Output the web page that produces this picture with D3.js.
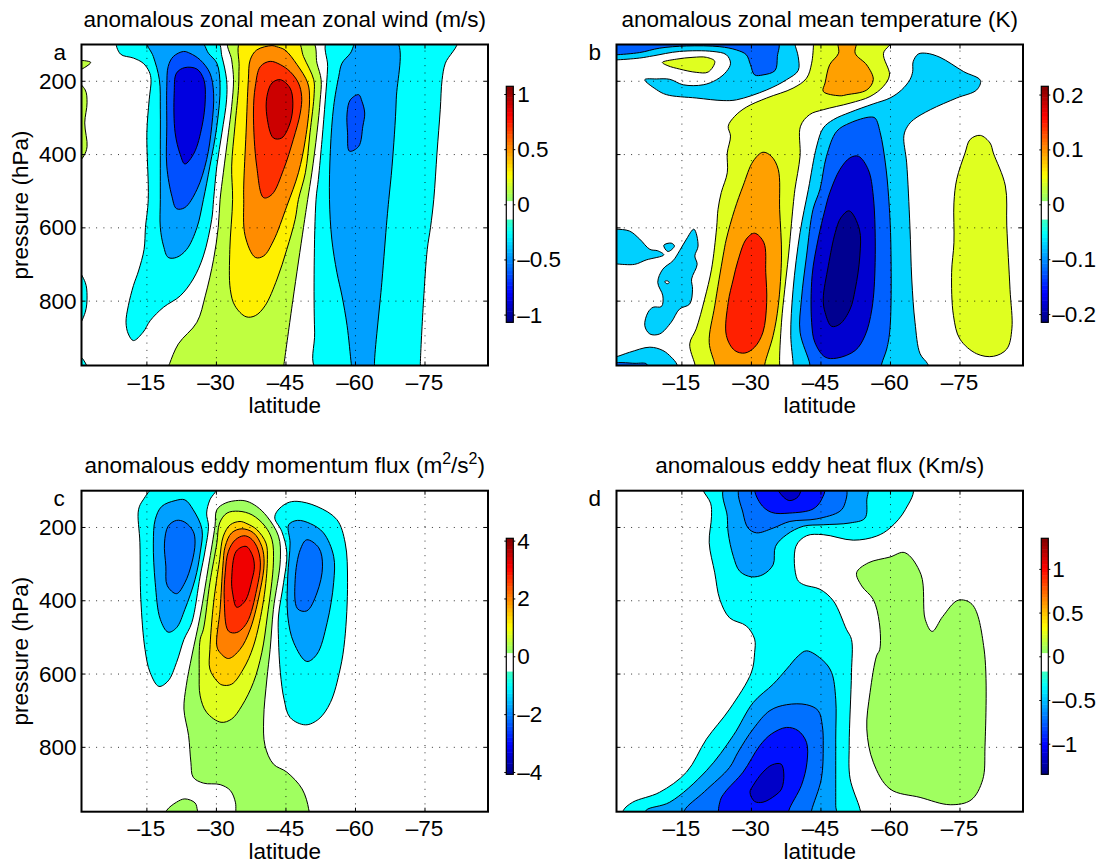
<!DOCTYPE html>
<html>
<head>
    <title>Anomalous zonal mean fields</title>
    <script src="https://d3js.org/d3.v7.min.js"></script>
    <style>
        body { margin: 0; background: #fff; }
        text { font-family: "Liberation Sans", Arial, sans-serif; fill: #000; font-size: 22.5px; }
    </style>
</head>
<body>
    <svg width="1107" height="867"></svg>
    <script>
        // axis values
        var latTicks = [-15, -30, -45, -60, -75];
        var pressureTicks = [200, 400, 600, 800];
        var latDomain = [-1, -88.7];
        var pressureDomain = [101, 977];

        // colorbar ticks and limits
        var windBarTicks = [1, 0.5, 0, -0.5, -1];
        var tempBarTicks = [0.2, 0.1, 0, -0.1, -0.2];
        var momBarTicks = [4, 2, 0, -2, -4];
        var heatBarTicks = [1, 0.5, 0, -0.5, -1];
        var windLimit = 1.07, tempLimit = 0.215, momLimit = 4.08, heatLimit = 1.35;

        // filled contour levels and their colors
        var windLevels = [-0.2, -0.4, -0.6, -0.8, 0.1, 0.3, 0.5, 0.7, 0.9];
        var windColors = ["#00ffff", "#00a0ff", "#0050ff", "#0000e0", "#bfff40", "#fff000", "#ff8c00", "#ff3000", "#cc0000"];
        var tempLevels = [-0.03, -0.07, -0.11, -0.15, -0.19, 0.02, 0.1, 0.15];
        var tempColors = ["#00d0ff", "#0060ff", "#0000d0", "#000090", "#ffffff", "#dfff20", "#ffa000", "#ff2000"];
        var momLevels = [-0.8, -1.6, -2.4, 0.4, 1.0, 1.6, 2.2, 2.8, 3.4];
        var momColors = ["#00ffff", "#00a0ff", "#0070ff", "#a0ff60", "#e0ff20", "#ffd000", "#ff8000", "#ff3000", "#f00000"];
        var heatLevels = [-0.2, -0.4, -0.6, -0.8, -1.0, 0.1];
        var heatColors = ["#00ffff", "#00a0ff", "#0070ff", "#0010ff", "#0000c8", "#a0ff60"];

        // contours: [level, [[lat, pressure], ...]], outer ones first
        var windContours = [
            [-0.2, [[-8.7,90],[-9.4,127],[-12.2,138],[-14.3,152],[-15.6,175],[-16,197],[-15.6,252],[-15.1,342],[-15.4,524],[-14.8,600],[-14.5,660],[-13.3,719],[-12.2,759],[-11.1,814],[-10.6,859],[-11.1,891],[-12.2,909],[-14.3,886],[-15.8,855],[-18.7,818],[-22.3,787],[-25.1,741],[-27.3,678],[-29.1,578],[-29.5,524],[-30.2,433],[-31.3,342],[-32.3,252],[-32.3,197],[-31.3,134],[-30.2,90]]],
            [-0.4, [[-15.1,90],[-16.5,134],[-17.8,197],[-18,279],[-18,388],[-18,524],[-18,600],[-18.7,651],[-19.7,682],[-21.5,682],[-23.7,660],[-25.9,601],[-27.3,524],[-28.7,433],[-30.2,324],[-30.9,215],[-30.2,152],[-28.4,125],[-26.6,90]]],
            [-0.6, [[-23,120],[-20.8,134],[-19.7,161],[-19.4,215],[-19.4,324],[-19.4,433],[-20.5,515],[-21.5,549],[-23.3,546],[-25.9,497],[-28,415],[-29.1,324],[-29.5,234],[-28.7,179],[-26.6,143],[-24.4,125]]],
            [-0.8, [[-23.3,164],[-21.5,179],[-21,234],[-21.2,342],[-22.3,401],[-23.3,427],[-25.3,397],[-27,324],[-27.7,252],[-27.4,197],[-25.9,168]]],
            [0.1, [[-32.7,90],[-33.4,143],[-33.8,197],[-33.4,270],[-32.7,342],[-31.6,451],[-30.9,524],[-30.5,600],[-29.5,687],[-27.7,787],[-25.9,859],[-21.9,918],[-20,972],[-19.5,990],[-44.5,990],[-44.7,972],[-46.6,799],[-48.9,600],[-49.8,524],[-50.7,451],[-51.8,342],[-52.5,252],[-52.7,197],[-51.8,152],[-50.7,90]]],
            [0.3, [[-35.4,90],[-35,161],[-34.9,215],[-34.1,324],[-33.4,433],[-33.6,524],[-33,660],[-33.1,769],[-34.1,814],[-36.5,844],[-38.5,841],[-40.6,814],[-43.2,741],[-45.3,660],[-47.1,578],[-47.8,524],[-49.3,451],[-50.3,342],[-51.2,234],[-51.1,197],[-48.9,134],[-47.5,90]]],
            [0.5, [[-42.1,104],[-38.8,116],[-37.4,143],[-37,197],[-36.5,342],[-36,487],[-36,524],[-36.3,623],[-38.5,682],[-40.3,678],[-42.4,637],[-45.3,542],[-47.8,451],[-49.3,360],[-50.2,252],[-49.8,206],[-47.5,156],[-44.9,116],[-43.1,107]]],
            [0.7, [[-39.6,161],[-38.5,215],[-38.1,288],[-38.8,433],[-40.3,519],[-42.1,510],[-44.6,442],[-46.7,360],[-48.2,288],[-48.5,243],[-47.8,206],[-46,175],[-43.9,156],[-41.7,147]]],
            [0.9, [[-43.9,197],[-42.1,206],[-41,243],[-41,297],[-42.4,356],[-44.2,356],[-46,315],[-46.6,261],[-46,220]]],
            [0.1, [[0,147],[-3,150],[0,172]]],
            [0.1, [[0,205],[-1.8,225],[-2.2,260],[-1.7,315],[-2.2,380],[-1.5,405],[0,425]]],
            [-0.2, [[0,715],[-1.8,750],[-2.2,787],[-1.8,832],[0,875]]],
            [-0.2, [[0,950],[-1,955],[-2.3,990],[0,990]]],
            [-0.2, [[-54.1,90],[-54.1,161],[-53.6,252],[-52.9,360],[-52.1,469],[-51.6,524],[-51.2,705],[-51.3,886],[-51.8,990],[-74.1,990],[-74.1,972],[-74.8,799],[-75.6,660],[-76.3,600],[-77,524],[-77.7,397],[-78.4,279],[-78.8,197],[-79.5,152],[-82,90]]],
            [-0.4, [[-60.6,90],[-59,125],[-57.2,152],[-56.5,188],[-55.4,270],[-54.7,388],[-54.5,524],[-55,632],[-56.1,723],[-57.2,787],[-58.3,868],[-59.2,972],[-59.4,990],[-64.3,990],[-64.2,972],[-65.8,750],[-66.9,578],[-67.3,524],[-68,433],[-68.9,252],[-68.9,90]]],
            [-0.6, [[-60.8,238],[-59,252],[-58.3,288],[-58.4,342],[-58.8,392],[-60.8,379],[-61.7,324],[-62.1,288],[-61.5,256]]]
        ];

        var tempContours = [
            [-0.03, [[-39.5,90],[-39.5,100],[-40.2,134],[-40.2,172],[-37.7,197],[-33.4,225],[-26.9,252],[-24,254],[-18.2,247],[-11.8,238],[-9.6,224],[-7.1,197],[-9.6,195],[-12.5,196],[-15.4,211],[-19.7,211],[-22.6,197],[-24.7,175],[-25.6,152],[-24.7,129],[-21.8,120],[-14.6,120],[-8.9,132],[-6,138],[-0.9,143],[0,143],[0,90]]],
            [-0.07, [[0,90],[0,129],[-0.9,129],[-6,123],[-10.3,111],[-16.1,105],[-23.3,107],[-26.9,116],[-29,129],[-29.9,156],[-30.8,184],[-32.6,184],[-35.2,172],[-35.7,134],[-35.7,90]]],
            [0.02, [[-10.9,150],[-13.9,141],[-17.5,136],[-20.4,136],[-22.2,147],[-20.8,176],[-18.2,177],[-14.6,168],[-12.1,159]]],
            [0.02, [[-43.5,90],[-43.5,100],[-43.1,152],[-42,193],[-39.1,220],[-33.4,247],[-29,272],[-26.5,297],[-25.1,324],[-25.6,351],[-24.9,397],[-24.9,451],[-23.6,505],[-22.9,551],[-22.6,601],[-21.5,714],[-20,796],[-18.2,877],[-16.8,918],[-17.9,973],[-18.2,990],[-36.4,990],[-36.2,973],[-36.6,859],[-37.3,769],[-38.1,678],[-39.1,542],[-39.5,496],[-40.6,406],[-40.7,324],[-42.7,292],[-45.6,279],[-51.4,261],[-55.7,243],[-58.6,215],[-59.9,184],[-58.6,125],[-60.5,90]]],
            [0.1, [[-48.9,90],[-48.9,125],[-47,156],[-46,206],[-45.6,229],[-49.2,241],[-50.7,238],[-55,225],[-56.4,197],[-55,157],[-52.5,125],[-52.7,90]]],
            [0.1, [[-32.6,395],[-30.5,419],[-28.3,487],[-26.5,551],[-24.7,632],[-24,678],[-22.2,814],[-21,914],[-22.2,973],[-22.4,990],[-32.9,990],[-33,973],[-34.8,895],[-35.9,814],[-36.6,678],[-36.2,551],[-35.9,442],[-34.4,406]]],
            [0.15, [[-30.8,616],[-29,632],[-27.2,691],[-26.2,741],[-25.1,805],[-24.7,895],[-26.5,936],[-28.7,943],[-30.8,927],[-32.6,886],[-33.4,805],[-33.2,723],[-32.8,642]]],
            [-0.03, [[-51.4,286],[-56.4,263],[-60,247],[-62.5,225],[-64.3,197],[-64.9,175],[-65,148],[-66.1,127],[-67.9,125],[-70.8,136],[-75.9,175],[-79.5,199],[-78.7,225],[-74.4,247],[-68.7,279],[-65.1,306],[-63.8,324],[-63,350],[-63.6,424],[-64.3,596],[-64.7,741],[-65.4,859],[-66.5,945],[-68.1,972],[-68.5,990],[-39.1,990],[-39.1,973],[-38.6,895],[-39.1,769],[-40.6,614],[-42.4,496],[-44.2,378],[-45.6,329],[-47.8,306]]],
            [-0.07, [[-55.7,299],[-56.8,302],[-57.9,342],[-59,424],[-59.7,515],[-60.2,651],[-60,877],[-59.3,932],[-58.2,973],[-58,990],[-42.7,990],[-42.7,973],[-40.6,886],[-40.9,796],[-42,678],[-43.4,551],[-44.9,496],[-46.3,406],[-48.5,338],[-51.4,315]]],
            [-0.11, [[-53.2,406],[-51.4,410],[-49.2,442],[-47,506],[-46,551],[-44.5,632],[-43.2,732],[-43.1,859],[-43.8,914],[-46,954],[-48.5,957],[-52.5,936],[-54.6,896],[-56.1,823],[-56.8,696],[-56.4,515],[-55.3,442]]],
            [-0.15, [[-51.2,555],[-49.4,574],[-48.2,614],[-46.7,705],[-45.6,796],[-46,832],[-47.4,870],[-49.2,864],[-51.4,823],[-52.5,769],[-53.5,678],[-53.4,605]]],
            [0.02, [[-79.5,349],[-77.3,360],[-76.2,397],[-74.4,469],[-73.8,533],[-73.8,642],[-73.3,723],[-73.7,841],[-75.1,905],[-78.7,945],[-82.3,952],[-85.2,932],[-86.3,877],[-85.9,769],[-85.2,596],[-84.9,487],[-82.3,397],[-81.6,370]]],
            [-0.03, [[0,605],[-0.9,605],[-3.8,610],[-6,632],[-8.2,660],[-9.9,664],[-11.2,675],[-7.4,689],[-4.9,701],[-0.9,700],[0,700]]],
            [-0.03, [[-11.2,649],[-12.8,643],[-13.5,651],[-12.1,666]]],
            [-0.03, [[-17.7,605],[-18.6,651],[-17.9,678],[-18.4,701],[-17.2,741],[-17.4,769],[-16.8,809],[-14.6,823],[-12.8,859],[-10.3,891],[-8.2,891],[-7.1,868],[-7.8,832],[-8.9,818],[-10.7,816],[-11,787],[-9.9,750],[-11,714],[-13.2,691],[-14.6,664],[-16.1,632]]],
            [-0.19, [[-11.4,748],[-11.9,746],[-12.4,750],[-11.9,754]]],
            [-0.03, [[0,953],[-0.9,953],[-3.8,941],[-8.2,927],[-11,936],[-12.8,954],[-14,973],[-14.2,990],[0,990]]],
            [-0.07, [[0,973],[-5,971],[-7.5,973],[-7.5,990],[0,990]]]
        ];

        var momContours = [
            [-0.8, [[-17,90],[-14.3,126],[-13.3,153],[-13.6,243],[-13.8,398],[-14.7,534],[-15.8,597],[-17.7,635],[-19.7,620],[-21.5,570],[-23.1,507],[-24.8,461],[-26.6,334],[-27.7,262],[-28.4,198],[-28,162],[-28.7,126],[-30.3,90]]],
            [-1.6, [[-23.3,126],[-21.2,128],[-18.3,144],[-16.9,180],[-16.5,244],[-16.9,352],[-18,452],[-19.7,487],[-21.5,475],[-23.3,425],[-25.5,343],[-26.6,271],[-27,207],[-25.1,153]]],
            [-2.4, [[-21.5,182],[-19.7,198],[-18.9,244],[-19.2,307],[-19.5,360],[-21.5,382],[-23.3,352],[-24.8,298],[-25.5,244],[-25.1,212],[-23.3,187]]],
            [0.4, [[-34.9,127.5],[-32,135],[-30.2,153],[-29.8,198],[-28.4,307],[-26.6,443],[-24.8,552],[-23.6,633],[-23.1,697],[-24.1,769],[-24.6,842],[-25.1,883],[-27.3,899],[-30.9,903],[-33.1,919],[-34.2,951],[-34.3,973],[-34.3,990],[-50,990],[-50,969],[-48.6,915],[-45.3,869],[-42.4,847],[-40.6,797],[-40.3,724],[-41,615],[-41.7,534],[-42.4,425],[-43.9,289],[-43.5,225],[-41,171],[-38.8,144],[-36.7,130]]],
            [0.4, [[-19.4,973],[-21.5,951],[-23.3,942],[-25.5,953],[-26,973],[-26.2,990],[-19,990]]],
            [1.0, [[-34.9,157],[-32.4,162],[-30.8,189],[-30.2,244],[-28.7,352],[-27.3,479],[-26.6,507],[-26.4,597],[-26.6,661],[-28,706],[-31.1,733],[-33.4,724],[-35.6,688],[-38.1,624],[-39.9,543],[-41.1,443],[-42.4,298],[-42.1,235],[-40.6,198],[-37.8,167]]],
            [1.6, [[-35.2,185],[-33.1,194],[-31.6,225],[-30.8,289],[-29.5,407],[-28.7,534],[-28.7,588],[-30.2,620],[-31.3,631],[-33.4,629],[-35.9,588],[-38.1,525],[-40.3,398],[-41.1,289],[-40.8,244],[-38.8,207],[-36.7,191]]],
            [2.2, [[-35.6,205],[-33.4,216],[-32,253],[-31.5,307],[-30.9,425],[-30.2,525],[-30.9,543],[-32.7,559],[-35.2,534],[-37.4,479],[-39.6,370],[-40.4,298],[-39.9,253],[-38.1,216]]],
            [2.8, [[-36,224],[-34.2,235],[-32.7,266],[-32,325],[-31.8,398],[-32.7,484],[-34.5,488],[-36.7,461],[-38.8,370],[-39.6,298],[-38.8,253],[-37.4,230]]],
            [3.4, [[-36.5,253],[-34.4,266],[-33.4,343],[-33.6,380],[-34.5,419],[-36.3,402],[-37.8,343],[-38.3,307],[-37.8,275]]],
            [-0.8, [[-47.5,130],[-45.3,135],[-43.2,157],[-42.7,176],[-44.2,212],[-45.3,271],[-44.6,352],[-43.5,443],[-43.5,507],[-43.9,597],[-44.7,670],[-46,720],[-49.3,740],[-52.2,724],[-54.7,679],[-56.8,588],[-57.8,507],[-58.4,352],[-57.9,244],[-56.1,180],[-51.8,144]]],
            [-1.6, [[-47.6,182],[-45.7,194],[-46,244],[-45.5,334],[-45.5,443],[-46.8,516],[-49.6,567],[-51.8,547],[-54,461],[-55.4,352],[-55.4,280],[-53.2,216],[-50.4,191]]],
            [-2.4, [[-49.6,235],[-48.2,262],[-47.1,343],[-47.6,423],[-49.6,429],[-51.8,380],[-53,307],[-52.2,257]]]
        ];

        var heatContours = [
            [-0.2, [[-19.7,90],[-19.7,100],[-21.3,135],[-21.5,171],[-21,243],[-22.2,325],[-23.3,398],[-25.4,448],[-29,470],[-30.8,506],[-30.8,543],[-30.1,597],[-25.4,697],[-20.4,779],[-16.1,869],[-10.3,924],[-4.5,951],[-2.5,973],[-2.4,990],[-53.7,990],[-53.5,969],[-51.4,887],[-51.2,797],[-51.7,597],[-51.7,507],[-50.6,479],[-47.8,402],[-44.9,370],[-41.3,357],[-40,343],[-39.7,253],[-42,224],[-45.6,221],[-52.1,236],[-57.1,225],[-60,203],[-63.3,153],[-64.8,90]]],
            [-0.4, [[-24.4,90],[-24.9,171],[-25.1,216],[-26.2,280],[-27.6,321],[-30.1,336],[-32.6,330],[-34.8,303],[-35.3,253],[-37.7,221],[-41.3,198],[-45.6,194],[-51.4,189],[-54.6,176],[-55,126],[-55,90]]],
            [-0.6, [[-27.7,90],[-28.3,162],[-29.4,203],[-31.2,216],[-34.8,203],[-38.4,185],[-44.2,178],[-49.2,157],[-50.3,135],[-50.3,90]]],
            [-0.8, [[-31,90],[-32,135],[-34.4,160],[-38.4,162],[-43.4,151],[-45.2,126],[-45.8,90]]],
            [-1.0, [[-35.7,90],[-37,118],[-38.4,128],[-40.2,117],[-40.7,90]]],
            [-0.4, [[-42,538],[-40.2,552],[-37.7,588],[-34.8,629],[-30.5,679],[-26.2,769],[-20.4,865],[-12.5,951],[-7.4,973],[-7.1,990],[-48.3,990],[-48.3,960],[-48.3,779],[-48.3,670],[-47.4,597],[-45.6,565]]],
            [-0.6, [[-15.7,990],[-15.7,973],[-20,922],[-25.4,856],[-27.2,815],[-30.5,751],[-34.1,701],[-37.7,685],[-42,685],[-44.5,701],[-45.4,742],[-45.6,797],[-45.2,887],[-43.1,973],[-42.9,990]]],
            [-0.8, [[-23.4,990],[-23.4,946],[-24.4,924],[-28.3,869],[-31.9,797],[-34.4,765],[-37.7,747],[-40.2,756],[-42,788],[-42.1,842],[-40.9,905],[-38.2,973],[-38.1,990]]],
            [-1.0, [[-34.6,849],[-32.6,869],[-30.5,905],[-29.8,924],[-30.8,949],[-32.6,951],[-35.2,933],[-36.6,915],[-37.1,874],[-36.5,847]]],
            [0.1, [[-60,282],[-55.3,298],[-52.8,325],[-53.9,361],[-56.4,398],[-57.7,461],[-57.8,534],[-57.1,552],[-55.7,652],[-55,751],[-56.4,842],[-60,915],[-66.5,938],[-73,958],[-77.5,945],[-80,890],[-80.5,800],[-80.3,533],[-77.7,411],[-74.7,400],[-71.4,444],[-69.1,485],[-67.6,452],[-66.7,330],[-63.2,270]]]
        ];

        var svg = d3.select("svg");

        function jet(t) {
            function f(c) { return Math.round(255 * Math.max(0, Math.min(1, 1.5 - Math.abs(4 * t - c)))); }
            return d3.rgb(f(3), f(2), f(1)).toString();
        }

        function tickLabel(d) {
            return String(d).replace("-", "\u2013");
        }

        var panelIndex = 0;

        function drawPanel(p) {
            var id = "clip" + (panelIndex++);
            var x = d3.scaleLinear().domain(latDomain).range([p.left, p.left + 406.5]);
            var y = d3.scaleLinear().domain(pressureDomain).range([p.top, p.top + 321]);
            var color = d3.scaleOrdinal().domain(p.levels).range(p.colors);
            var right = x.range()[1], bottom = y.range()[1];

            svg.append("clipPath").attr("id", id).append("rect")
                .attr("x", p.left).attr("y", p.top).attr("width", 406.5).attr("height", 321);

            var line = d3.line()
                .x(function(d) { return x(d[0]); })
                .y(function(d) { return y(d[1]); })
                .curve(d3.curveCatmullRomClosed.alpha(0.5));

            svg.append("g").attr("clip-path", "url(#" + id + ")")
                .selectAll("path")
                .data(p.contours)
                .enter().append("path")
                .attr("d", function(d) { return line(d[1]); })
                .attr("fill", function(d) { return color(d[0]); })
                .attr("stroke", "#000")
                .attr("stroke-width", 1);

            // dotted grid
            var gridX = svg.append("g").attr("transform", "translate(0," + bottom + ")")
                .call(d3.axisBottom(x).tickValues(latTicks).tickSize(-321).tickFormat(""));
            var gridY = svg.append("g").attr("transform", "translate(" + p.left + ",0)")
                .call(d3.axisLeft(y).tickValues(pressureTicks).tickSize(-406.5).tickFormat(""));
            [gridX, gridY].forEach(function(g) {
                g.select(".domain").remove();
                g.selectAll("line").attr("stroke", "#000").attr("stroke-width", 0.8).attr("stroke-dasharray", "1,6.3");
            });

            // short inward ticks on every side
            var edges = [
                [d3.axisBottom(x).tickValues(latTicks), 0, bottom],
                [d3.axisTop(x).tickValues(latTicks), 0, p.top],
                [d3.axisLeft(y).tickValues(pressureTicks), p.left, 0],
                [d3.axisRight(y).tickValues(pressureTicks), right, 0]
            ];
            edges.forEach(function(e) {
                var g = svg.append("g").attr("transform", "translate(" + e[1] + "," + e[2] + ")")
                    .call(e[0].tickSize(-4).tickFormat(""));
                g.select(".domain").remove();
                g.selectAll("line").attr("stroke", "#000").attr("stroke-width", 1);
            });

            svg.append("rect")
                .attr("x", p.left).attr("y", p.top).attr("width", 406.5).attr("height", 321)
                .attr("fill", "none").attr("stroke", "#000").attr("stroke-width", 2);

            // tick labels
            svg.append("g").selectAll("text")
                .data(latTicks)
                .enter().append("text")
                .attr("x", function(d) { return x(d); })
                .attr("y", bottom + 24.5)
                .attr("text-anchor", "middle")
                .text(tickLabel);

            if (p.yLabels) {
                svg.append("g").selectAll("text")
                    .data(pressureTicks)
                    .enter().append("text")
                    .attr("x", p.left - 5)
                    .attr("y", function(d) { return y(d) + 8; })
                    .attr("text-anchor", "end")
                    .text(function(d) { return d; });

                svg.append("text")
                    .attr("transform", "translate(28," + (p.top + 160.5) + ") rotate(-90)")
                    .attr("text-anchor", "middle")
                    .text("pressure (hPa)");
            }

            svg.append("text")
                .attr("x", (p.left + right) / 2)
                .attr("y", bottom + 47.5)
                .attr("text-anchor", "middle")
                .text("latitude");

            var title = svg.append("text")
                .attr("x", (p.left + right) / 2)
                .attr("y", p.top - 18)
                .attr("text-anchor", "middle");
            p.title.forEach(function(part) {
                var span = title.append("tspan").text(part[0]);
                if (part[1]) span.attr("dy", part[1]).style("font-size", part[2] || null);
            });

            svg.append("text")
                .attr("x", p.left - 28)
                .attr("y", p.top + 15.5)
                .text(p.letter);

            drawColorbar(p, right);
        }

        function drawColorbar(p, right) {
            var barX = right + 18.3, barTop = p.barTop, barHeight = 236, barWidth = 7;
            var y = d3.scaleLinear().domain([-p.limit, p.limit]).range([barTop + barHeight, barTop]);
            var steps = d3.range(64);
            var step = d3.scaleBand().domain(steps).range([barTop + barHeight, barTop]);

            svg.append("g").selectAll("rect")
                .data(steps)
                .enter().append("rect")
                .attr("x", barX)
                .attr("y", function(d) { return step(d); })
                .attr("width", barWidth)
                .attr("height", step.bandwidth() + 0.5)
                .attr("fill", function(d) {
                    var t = (d + 0.5) / 64;
                    return (t > 0.44 && t < 0.516) ? "#fff" : jet(t);
                });

            [[d3.axisRight(y), barX], [d3.axisLeft(y), barX + barWidth]].forEach(function(a) {
                var g = svg.append("g").attr("transform", "translate(" + a[1] + ",0)")
                    .call(a[0].tickValues(p.barTicks).tickSize(-2).tickFormat(""));
                g.select(".domain").remove();
                g.selectAll("line").attr("stroke", "#000").attr("stroke-width", 1);
            });

            svg.append("rect")
                .attr("x", barX).attr("y", barTop).attr("width", barWidth).attr("height", barHeight)
                .attr("fill", "none").attr("stroke", "#000").attr("stroke-width", 1.2);

            svg.append("g").selectAll("text")
                .data(p.barTicks)
                .enter().append("text")
                .attr("x", barX + barWidth + 4)
                .attr("y", function(d) { return y(d) + 8; })
                .text(tickLabel);
        }

        drawPanel({
            left: 81.5, top: 44.5, barTop: 86.3, letter: "a", yLabels: true,
            title: [["anomalous zonal mean zonal wind (m/s)"]],
            contours: windContours, levels: windLevels, colors: windColors,
            limit: windLimit, barTicks: windBarTicks
        });
        drawPanel({
            left: 616.5, top: 44.5, barTop: 86.3, letter: "b", yLabels: false,
            title: [["anomalous zonal mean temperature (K)"]],
            contours: tempContours, levels: tempLevels, colors: tempColors,
            limit: tempLimit, barTicks: tempBarTicks
        });
        drawPanel({
            left: 81.5, top: 490.7, barTop: 538.3, letter: "c", yLabels: true,
            title: [["anomalous eddy momentum flux (m"], ["2", -9, "16px"], ["/s", 9, "22.5px"], ["2", -9, "16px"], [")", 9, "22.5px"]],
            contours: momContours, levels: momLevels, colors: momColors,
            limit: momLimit, barTicks: momBarTicks
        });
        drawPanel({
            left: 616.5, top: 490.7, barTop: 538.3, letter: "d", yLabels: false,
            title: [["anomalous eddy heat flux (Km/s)"]],
            contours: heatContours, levels: heatLevels, colors: heatColors,
            limit: heatLimit, barTicks: heatBarTicks
        });
    </script>
</body>
</html>
